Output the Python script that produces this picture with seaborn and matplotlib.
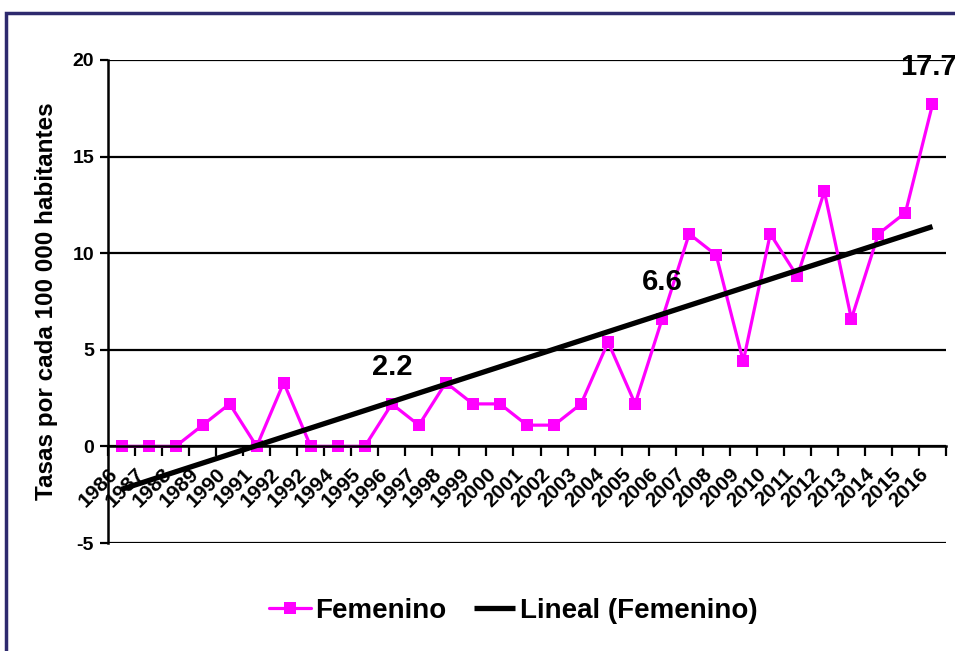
"""Tasas por cada 100 000 habitantes, femenino, 1986-2016, with linear trend."""

import numpy as np
import pandas as pd
import seaborn as sns
from matplotlib import pyplot as plt
from matplotlib.patches import Rectangle

years = list(range(1986, 2017))
year_labels = [
    "1986", "1987", "1988", "1989", "1990", "1991", "1992", "1992", "1994", "1995",
    "1996", "1997", "1998", "1999", "2000", "2001", "2002", "2003", "2004", "2005",
    "2006", "2007", "2008", "2009", "2010", "2011", "2012", "2013", "2014", "2015", "2016",
]
femenino = [
    0.0, 0.0, 0.0, 1.1, 2.2, 0.0, 3.3, 0.0, 0.0, 0.0,
    2.2, 1.1, 3.3, 2.2, 2.2, 1.1, 1.1, 2.2, 5.4, 2.2,
    6.6, 11.0, 9.9, 4.4, 11.0, 8.8, 13.2, 6.6, 11.0, 12.1, 17.7,
]
labelled_years = {1996: "2.2", 2006: "6.6", 2016: "17.7"}

MAGENTA = "#FF00FF"

sns.set_theme(style="white")
plt.rcParams["font.family"] = ["Liberation Sans", "DejaVu Sans"]
plt.rcParams["font.weight"] = "bold"
for key in ("text.color", "axes.labelcolor", "xtick.color", "ytick.color"):
    plt.rcParams[key] = "black"

df = pd.DataFrame({"pos": np.arange(len(years)), "year": years, "value": femenino})
slope, intercept = np.polyfit(df["pos"], df["value"], 1)
df["trend"] = intercept + slope * df["pos"]

fig = plt.figure(figsize=(9.55, 6.51), dpi=100)
ax = fig.add_axes([108 / 955, 1 - 543 / 651, 838 / 955, 483 / 651])

sns.lineplot(data=df, x="pos", y="value", ax=ax, color=MAGENTA, lw=2.3,
             marker="s", markersize=8.5, markeredgewidth=0, label="Femenino")
sns.lineplot(data=df, x="pos", y="trend", ax=ax, color="black", lw=3.8,
             label="Lineal (Femenino)", solid_capstyle="butt")

for yr, txt in labelled_years.items():
    i = years.index(yr)
    dx = -0.15 if yr == 2016 else 0
    ax.text(i + dx, femenino[i] + 1.2, txt, ha="center", va="bottom",
            fontsize=21, fontweight="bold", color="black")

# spine position first: it resets the ticks
for side in ("top", "right"):
    ax.spines[side].set_visible(False)
ax.spines["bottom"].set_position(("data", 0))
for side in ("left", "bottom"):
    ax.spines[side].set_color("black")
    ax.spines[side].set_linewidth(1.8)

ax.set_xlim(-0.5, len(years) - 0.5)
ax.set_ylim(-5, 20)
ax.set_yticks([-5, 0, 5, 10, 15, 20])
ax.set_yticklabels(["-5", "0", "5", "10", "15", "20"], fontsize=14, fontweight="bold")
ax.grid(axis="y", color="black", lw=1.6)
ax.grid(axis="x", visible=False)

ax.set_xticks(np.arange(len(years) + 1) - 0.5)
ax.set_xticklabels([])
ax.set_xticks(np.arange(len(years)), minor=True)
ax.set_xticklabels(year_labels, minor=True, fontsize=15, fontweight="bold")
ax.tick_params(axis="x", which="major", direction="out", length=7, width=1.6, color="black", bottom=True)
ax.tick_params(axis="x", which="minor", length=0, pad=13, labelrotation=45)
ax.tick_params(axis="y", direction="out", length=6, width=1.6, color="black", left=True, pad=4)
for lab in ax.get_xticklabels(minor=True):
    lab.set_horizontalalignment("right")

ax.set_xlabel("")
ax.set_ylabel("Tasas por cada 100 000 habitantes", fontsize=17.5, fontweight="bold", labelpad=10)

ax.legend(loc="center", bbox_to_anchor=(513 / 955, 1 - 611 / 651), bbox_transform=fig.transFigure,
          ncol=2, frameon=False, prop={"weight": "bold", "size": 20},
          handlelength=1.5, columnspacing=1.0, handletextpad=0.15)

fig.patches.append(Rectangle((6 / 955, -0.05), 1.1, 1 - 12.5 / 651 + 0.05, transform=fig.transFigure,
                             fill=False, edgecolor="#2E2A6E", lw=2.5, zorder=0))

fig.savefig("out.png", dpi=100)
